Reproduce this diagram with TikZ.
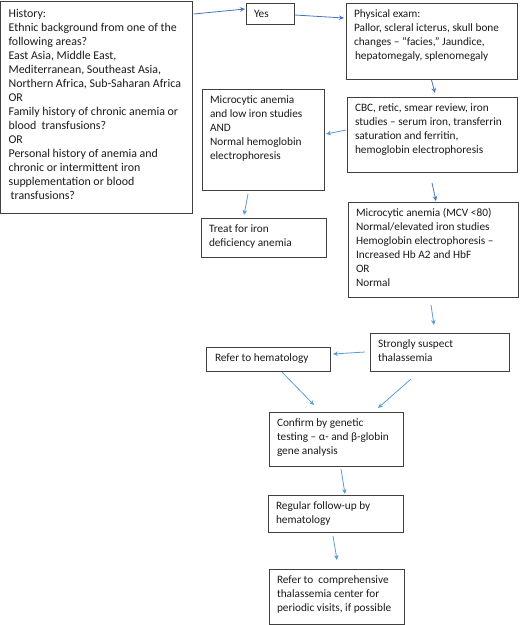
\documentclass[tikz,border=0pt]{standalone}
\usepackage{fontspec}
\setmainfont{Carlito}
\usetikzlibrary{arrows.meta,calc}
\definecolor{arrdark}{HTML}{4472C4}
\definecolor{arrlight}{HTML}{5B9BD5}
\definecolor{boxline}{HTML}{404040}
\definecolor{txt}{HTML}{1A1A1A}
\newcommand\bx[3]{\parbox[t][\dimexpr#2pt-10pt\relax][t]{\dimexpr#1pt-16pt\relax}{\raggedright\strut #3}}
\newcommand\bxlow[3]{\parbox[t][\dimexpr#2pt-10pt\relax][t]{\dimexpr#1pt-16pt\relax}{\raggedright\rule{0pt}{11.5pt}#3}}
\begin{document}
\begin{tikzpicture}[x=1pt,y=-1pt,
  flowbox/.style={draw=boxline,line width=0.9pt,inner xsep=8pt,inner ysep=5pt,outer sep=0pt,anchor=north west,
    font=\fontsize{11.3}{14}\selectfont,text=txt},
  bigtext/.style={font=\fontsize{11.9}{14}\selectfont},
  arrd/.style={draw=arrdark,line width=0.8pt,-{Stealth[length=5pt,width=4.5pt]}},
  arrl/.style={draw=arrlight,line width=0.8pt,-{Stealth[length=5pt,width=4.5pt]}}]
\useasboundingbox (0,0) rectangle (520,625);
\node[flowbox,bigtext] (hist) at (0.6,1) {\bxlow{192}{212}{History:\\Ethnic background from one of the\\following areas?\\East Asia, Middle East,\\Mediterranean, Southeast Asia,\\Northern Africa, Sub-Saharan Africa\\OR\\Family history of chronic anemia or\\blood\ \ transfusions?\\OR\\Personal history of anemia and\\chronic or intermittent iron\\supplementation or blood\\\hspace*{2pt}transfusions?}};
\node[flowbox] (yes) at (246,3) {\bx{48}{21}{Yes}};
\node[flowbox] (phys) at (346,3) {\bx{171}{76}{Physical exam:\\Pallor, scleral icterus, skull bone\\changes – “facies,” Jaundice,\\\hspace*{1pt}hepatomegaly, splenomegaly}};
\node[flowbox] (cbc) at (347,97) {\bx{170}{75}{CBC, retic, smear review, iron\\studies – serum iron, transferrin\\saturation and ferritin,\\hemoglobin electrophoresis}};
\node[flowbox] (micro) at (202,89) {\bx{122}{101}{Microcytic anemia\\and low iron studies\\AND\\Normal hemoglobin\\electrophoresis}};
\node[flowbox] (treat) at (201,218) {\bx{125}{39}{Treat for iron\\deficiency anemia}};
\node[flowbox] (mcv) at (348,202) {\bx{170}{95}{Microcytic anemia (MCV <80)\\Normal/elevated iron studies\\Hemoglobin electrophoresis –\\Increased Hb A2 and HbF\\OR\\Normal}};
\node[flowbox] (strong) at (370,333) {\bx{139}{38}{Strongly suspect\\thalassemia}};
\node[flowbox] (refhem) at (206,347) {\bx{124}{24}{\hspace*{1pt}Refer to hematology}};
\node[flowbox] (confirm) at (269,412) {\bx{134}{54}{Confirm by genetic\\testing – α- and β-globin\\gene analysis}};
\node[flowbox] (regular) at (268,495) {\bx{135}{37}{Regular follow-up by\\hematology}};
\node[flowbox] (comp) at (269,569) {\bx{135}{55}{Refer to\ \ comprehensive\\thalassemia center for\\periodic visits, if possible}};
\draw[arrd] ($(hist.north east)+(1,13)$) -- ($(yes.north west)+(-1,6)$);
\draw[arrd] ($(yes.north east)+(1,12)$) -- ($(phys.north west)+(-2,15)$);
\draw[arrd] ($(phys.south)+(0,1)$) -- ($(cbc.north)+(3,-4)$);
\draw[arrl] ($(cbc.north west)+(-1,33)$) -- ($(micro.north east)+(2,45)$);
\draw[arrl] ($(micro.south)+(-15,4)$) -- ($(treat.north west)+(43,-3)$);
\draw[arrd] ($(cbc.south)+(0,11)$) -- ($(mcv.north)+(3,-1)$);
\draw[arrl] ($(mcv.south)+(-2,8)$) -- ($(strong.north)+(-5.5,-8)$);
\draw[arrl] ($(strong.north west)+(-5,19)$) -- ($(refhem.north east)+(3,7)$);
\draw[arrl] ($(refhem.south west)+(76,1)$) -- ($(confirm.north west)+(45,-7)$);
\draw[arrl] ($(strong.south west)+(41,8)$) -- ($(confirm.north east)+(-25,-4)$);
\draw[arrl] ($(confirm.south)+(5,3)$) -- ($(regular.north)+(9.5,-1)$);
\draw[arrl] ($(regular.south)+(-2.5,4)$) -- ($(comp.north)+(0.5,-9)$);
\end{tikzpicture}
\end{document}
